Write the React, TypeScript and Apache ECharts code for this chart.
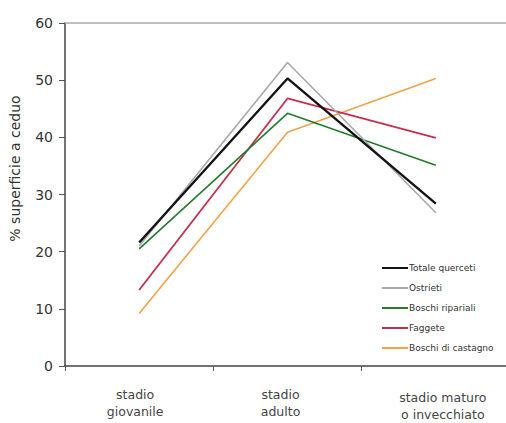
import React, { useEffect, useRef } from "react";
import * as echarts from "echarts";

const categories = ["stadio\ngiovanile", "stadio\nadulto", "stadio maturo\no invecchiato"];
const seriesNames = ["Totale querceti", "Ostrieti", "Boschi ripariali", "Faggete", "Boschi di castagno"];
const totaleQuerceti = [21.6, 50.3, 28.4];
const ostrieti = [21.0, 53.1, 26.8];
const boschiRipariali = [20.5, 44.2, 35.1];
const faggete = [13.3, 46.8, 39.9];
const boschiCastagno = [9.2, 40.9, 50.3];
const yTicks = [0, 10, 20, 30, 40, 50, 60];

const colors = ["#141414", "#a8a8a8", "#237a2c", "#c4304c", "#f0a448"];
const widths = [2.4, 1.6, 1.6, 1.8, 1.6];
const labelPads = [
  [0, 8, 0, 0],
  [0, 14, 0, 0],
  [3, 0, 0, 14],
];

export default function App() {
  const ref = useRef<HTMLDivElement>(null);
  useEffect(() => {
    if (!ref.current) return;
    const chart = echarts.init(ref.current, undefined, { renderer: "svg" });
    const data = [totaleQuerceti, ostrieti, boschiRipariali, faggete, boschiCastagno];
    const font = "DejaVu Sans, Verdana, sans-serif";
    chart.setOption({
      animation: false,
      backgroundColor: "#ffffff",
      textStyle: { fontFamily: font },
      grid: { left: 65, right: -4, top: 23, bottom: 57, containLabel: false, outerBoundsMode: "none" },
      legend: {
        orient: "vertical",
        left: 377,
        top: 257,
        icon: "rect",
        itemWidth: 26,
        itemHeight: 2,
        itemGap: 8,
        data: seriesNames,
        textStyle: { fontFamily: font, fontSize: 9, lineHeight: 12, color: "#333", padding: [0, 0, 0, -4] },
      },
      xAxis: [
        {
          type: "category",
          data: categories.map((c, i) => ({ value: c, textStyle: { padding: labelPads[i] } })),
          boundaryGap: true,
          axisLine: { lineStyle: { color: "#444", width: 1.5 } },
          axisTick: { show: true, length: 5, lineStyle: { color: "#555" } },
          axisLabel: { color: "#444", fontFamily: font, fontSize: 12.5, margin: 20, lineHeight: 17, interval: 0 },
        },
        {
          type: "category",
          position: "top",
          data: categories,
          axisLine: { show: true, onZero: false, lineStyle: { color: "#aaa", width: 1.5 } },
          axisTick: { show: false },
          axisLabel: { show: false },
        },
      ],
      yAxis: {
        type: "value",
        min: yTicks[0],
        max: yTicks[yTicks.length - 1],
        interval: 10,
        name: "% superficie a ceduo",
        nameLocation: "middle",
        nameGap: 43,
        nameTextStyle: { color: "#333", fontFamily: font, fontSize: 14, padding: [0, 0, 0, 52] },
        axisLine: { show: true, lineStyle: { color: "#444", width: 1.5 } },
        axisTick: { show: true, length: 6, lineStyle: { color: "#555" } },
        axisLabel: { color: "#333", fontFamily: font, fontSize: 14, margin: 12 },
        splitLine: { show: false },
      },
      series: seriesNames.map((name, i) => ({
        name,
        type: "line",
        data: data[i],
        symbol: "none",
        color: colors[i],
        lineStyle: { color: colors[i], width: widths[i] },
        z: 10 - i,
      })),
    });
    return () => chart.dispose();
  }, []);
  return <div ref={ref} style={{ width: 506, height: 423, position: "absolute", left: 0, top: 0 }} />;
}
